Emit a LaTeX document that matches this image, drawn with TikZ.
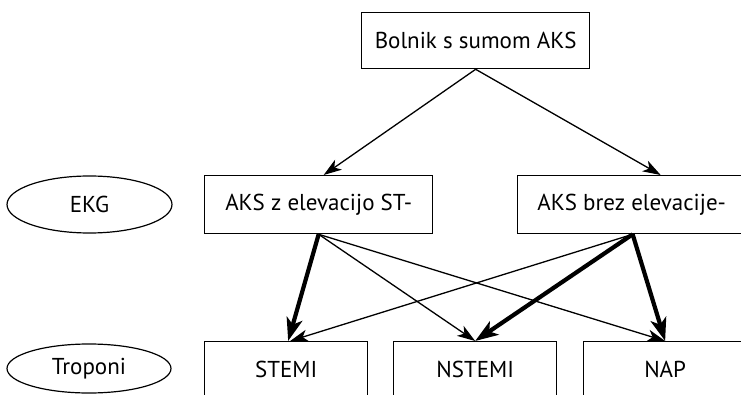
\documentclass[tikz,border=0pt]{standalone}
\usepackage{fontspec}
\setmainfont{PT Sans}
\usetikzlibrary{arrows.meta,shapes.geometric}
\begin{document}
\begin{tikzpicture}[x=1pt,y=-1pt,
  box/.style={draw, line width=1.3pt, font=\fontsize{23}{27}\selectfont, inner sep=0pt, anchor=north west},
  oval/.style={draw, ellipse, line width=1.2pt, font=\fontsize{23}{27}\selectfont, inner sep=0pt},
  thinarrow/.style={line width=1.3pt, -{Stealth[length=18pt, width=12pt, inset=5pt]}},
  thickarrow/.style={line width=4.2pt, -{Stealth[length=23pt, width=16pt, inset=6pt]}}
]
\path[use as bounding box, clip] (0,0) rectangle (741,395);
\node[box, minimum width=228, minimum height=56] (top) at (361,12) {Bolnik s sumom AKS};
\node[box, minimum width=228, minimum height=58] (aksz) at (204,175) {AKS z elevacijo ST-};
\node[box, minimum width=228, minimum height=58] (aksb) at (517,175) {AKS brez elevacije-};
\node[box, minimum width=163, minimum height=55] (stemi) at (204,341) {STEMI};
\node[box, minimum width=163, minimum height=55] (nstemi) at (393,341) {NSTEMI};
\node[box, minimum width=163, minimum height=55] (nap) at (583,341) {NAP};
\node[oval, minimum width=165, minimum height=57] (ekg) at (89.5,204.5) {EKG};
\node[oval, minimum width=164, minimum height=49] (trop) at (89,368.5) {Troponi};
\draw[thinarrow] (top.south) -- ([xshift=5]aksz.north);
\draw[thinarrow] (top.south) -- ([xshift=29]aksb.north);
\draw[thickarrow] (aksz.south) -- ([xshift=2]stemi.north);
\draw[thinarrow] (aksz.south) -- (nstemi.north);
\draw[thinarrow] (aksz.south) -- (nap.north);
\draw[thinarrow] ([xshift=1]aksb.south) -- ([xshift=4]stemi.north);
\draw[thickarrow] ([xshift=1]aksb.south) -- (nstemi.north);
\draw[thickarrow] ([xshift=1]aksb.south) -- (nap.north);
\end{tikzpicture}
\end{document}
